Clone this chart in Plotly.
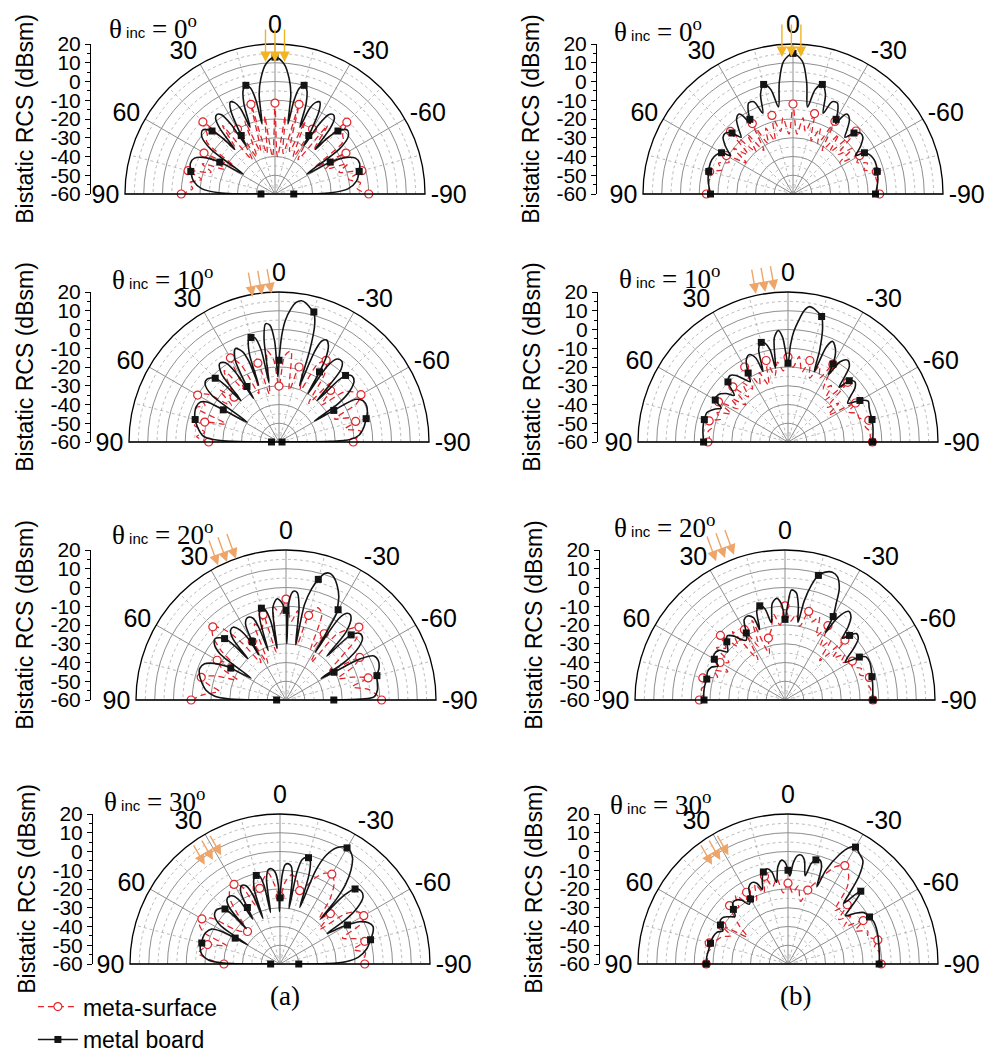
import math
import numpy as np
import plotly.graph_objects as go

W, H = 997, 1059

# Observation angles (deg) of the sampled meta-surface curves
OBS_META = [90, 86.25, 82.5, 78.75, 75, 71.25, 67.5, 63.75, 60, 56.25, 52.5, 48.75,
            45, 41.25, 37.5, 33.75, 30, 26.25, 22.5, 18.75, 15, 11.25, 7.5, 3.75, 0,
            -3.75, -7.5, -11.25, -15, -18.75, -22.5, -26.25, -30, -33.75, -37.5, -41.25,
            -45, -48.75, -52.5, -56.25, -60, -63.75, -67.5, -71.25, -75, -78.75, -82.5,
            -86.25, -90]

# Bistatic RCS of the meta-surface (dBsm) at OBS_META
META_A0 = [-10, -16, -14, -20, -12, -24, -18, -30, -16.3, -34, -14, -12, -5.6, -28, -14, -38,
           -20, -38, -18, -36, -10.5, -38, -18, -40, -11.5, -40, -18, -38, -10.5, -36, -18, -38,
           -20, -38, -14, -28, -5.8, -12, -14, -34, -16.3, -30, -18, -24, -12, -20, -14, -16, -10]
META_A10 = [-22.5, -16, -20, -14, -19, -30, -12, -16, -9.9, -14, -28, -18, -26.2, -20, -12, -26,
            -8.2, -14, -32, -20, -16.5, -34, -11, -16, -30.2, -14, -11, -32, -18.6, -22, -30, -14,
            -9.7, -16, -34, -18, -21.1, -30, -16, -12, -9.5, -14, -28, -20, -17.7, -24, -16, -18, -20.4]
META_A20 = [-9.4, -16, -24, -18, -13.2, -20, -32, -22, -17.6, -26, -16, -8, -4.8, -10, -22, -36,
            -24, -38, -16, -20, -12.9, -34, -10, -14, -6.2, -18, -12, -30, -13.3, -8, -10, -30,
            -19.2, -36, -16, -10, -5, -10, -24, -32, -14.6, -20, -30, -22, -14.6, -24, -16, -12, -9]
META_A30 = [-30.1, -22, -16, -18, -20, -30, -16, -12, -11.9, -16, -30, -34, -35.5, -28, -16, -12,
            -11, -14, -26, -16, -18.2, -14, -11, -18, -24, -16, -12, -14, -19.5, -16, -10, -6,
            -4.7, -8, -16, -28, -22, -32, -16, -10, -8.4, -12, -24, -18, -13.2, -20, -14, -15, -14.8]
META_B0 = [-13.8, -15, -14.5, -15, -14, -20, -17, -22, -19, -30, -20, -28, -12.8, -30, -20, -32,
           -16.6, -30, -22, -30, -16.6, -26, -19, -28, -12, -28, -19, -26, -15.6, -30, -22, -30,
           -15.3, -32, -20, -30, -12.5, -28, -20, -30, -19, -22, -17, -20, -14, -15, -14.5, -15, -13.8]
META_B10 = [-17.3, -18, -17, -19, -16.5, -22, -19, -26, -17.2, -28, -22, -30, -18.4, -28, -20, -26,
            -13.8, -26, -20, -28, -15, -24, -17, -22, -14.7, -20, -14, -22, -15, -24, -16, -22,
            -12.2, -26, -22, -30, -15, -32, -26, -34, -18.4, -24, -20, -20, -15.4, -18, -16, -16, -15]
META_B20 = [-14.3, -16, -15, -17, -14.6, -22, -19, -26, -20, -24, -14, -18, -11.3, -22, -14, -34,
            -16.7, -28, -14, -34, -25.8, -22, -14, -20, -9.8, -18, -14, -20, -11.1, -16, -12, -22,
            -14.2, -26, -20, -32, -14.8, -26, -20, -24, -18.5, -20, -16, -18, -13.4, -15, -14, -13.5, -13.1]
META_B30 = [-16.4, -17, -16.5, -18, -16.5, -20, -22, -26, -19.3, -34, -28, -22, -15.9, -20, -14, -20,
            -15.8, -22, -14, -20, -11.6, -18, -14, -22, -16.9, -22, -18, -26, -19.2, -14, -8, -2,
            0.6, -2, -8, -22, -15.3, -24, -18, -24, -13.7, -20, -14, -15, -10.4, -13, -11, -11, -10.3]

# Bistatic RCS of the metal board: (observation angle deg, dBsm)
METAL_A0 = [(90, -52.5), (88.7, -30), (86, -21), (81, -16), (75, -13.5), (70, -12), (66, -13),
            (63, -17), (60, -26), (58, -40), (55, -18), (52, -10.5), (48.5, -8.5), (45, -12.5),
            (43, -20), (42, -28), (40, -14), (38, -8.5), (36, -7.5), (34, -9), (32.3, -16),
            (31, -30), (30, -24), (28, -10), (26, -5.5), (24, -6.5), (22, -11), (20.5, -22),
            (19, -9), (17, -2), (15, 0), (13, -2), (11.5, -9), (10.5, -22), (9, -6), (7, 2),
            (4, 9.5), (0, 13), (-4, 9.5), (-7, 2), (-9, -6), (-10.5, -22), (-11.5, -9), (-13, -2),
            (-15, 0), (-17, -2), (-19, -9), (-20.5, -22), (-22, -11), (-24, -6.5), (-26, -5.5),
            (-28, -10), (-30, -24), (-31, -30), (-32.3, -16), (-34, -9), (-36, -7.5), (-38, -8.5),
            (-40, -14), (-42, -28), (-43, -20), (-45, -12.5), (-48.5, -8.5), (-52, -10.5),
            (-55, -18), (-58, -40), (-60, -26), (-63, -17), (-66, -13), (-70, -12), (-75, -13.5),
            (-81, -16), (-86, -21), (-88.7, -30), (-90, -50)]
METAL_A10 = [(90, -56), (89, -32), (87, -22), (85, -19), (80, -16), (75, -13.7), (71, -12.5),
             (67, -12), (63, -13), (61, -16), (60, -25.7), (58, -40), (55, -16), (52, -10),
             (49, -9), (45, -11.9), (43.5, -18), (42.6, -30), (40, -12), (37, -7.5), (34, -9),
             (32, -16), (30.4, -33), (30, -25.8), (28, -10), (25, -5), (22, -8), (20.5, -14),
             (19.7, -28), (18.5, -10), (16.5, -3), (15, -2.3), (13, -3), (11, -10), (9.6, -28),
             (8.2, -4), (6.5, 3.4), (4.5, 2.5), (2.5, -6), (1, -25), (0, -16.4), (-1.5, -3),
             (-3, 5), (-5, 11), (-7, 15), (-9, 16.3), (-11, 15.5), (-13, 13.5), (-15, 11.8),
             (-17, 5), (-18.5, -8), (-20, -28), (-21.5, -8), (-23, -1.5), (-25, 0), (-27, -2),
             (-29, -8), (-30, -16.8), (-31, -30), (-32.5, -12), (-35, -6), (-38, -5.5),
             (-40.5, -9), (-42.5, -30), (-44, -14), (-45, -9.8), (-48, -7.5), (-51, -8.5),
             (-54, -13), (-57, -22), (-59.2, -38), (-60, -26.3), (-61, -13), (-64, -10),
             (-68, -9.5), (-72, -10.5), (-75, -11.9), (-80, -14), (-85, -17), (-88, -22),
             (-89.3, -33), (-90, -58.4)]
METAL_A20 = [(90, -55), (89, -30), (87, -22), (83, -17), (78, -14), (74, -12), (70, -11),
             (66, -12.5), (63, -17), (61, -22), (60, -26), (58, -38), (55, -17), (52, -11.5),
             (49, -10), (45, -13.7), (43.5, -20), (42.7, -30), (41, -17), (38.5, -12.5), (36, -12),
             (33.5, -15), (31.5, -22), (31, -32), (30, -24), (28, -14), (25, -11.5), (22, -13),
             (20.5, -19), (19.8, -32), (18, -15), (16, -9.5), (15, -9.3), (13, -10.5), (11, -17),
             (9.7, -32), (8, -10), (5, -5.8), (2.5, -8), (1, -11), (0, -12.2), (-0.8, -30),
             (-2, -6), (-4, -1.8), (-6, -2.5), (-8, -10), (-9.9, -30), (-11, -8), (-13, 1),
             (-15, 6.6), (-17, 10.5), (-19, 11.5), (-21, 10.5), (-24, 7), (-27, 2), (-29, -3),
             (-30, -4.4), (-31, -20), (-31.5, -30), (-33, -8), (-35, -3.5), (-37, -3), (-39, -5),
             (-41.5, -12), (-43, -28), (-45, -10.9), (-48, -7), (-51, -7.5), (-54, -12),
             (-57, -22), (-58.4, -38), (-60, -30.4), (-61, -15), (-63.4, -7.5), (-67, -6.5),
             (-71, -7.5), (-75, -9.8), (-80, -10.5), (-84, -11), (-88, -13), (-89.3, -20),
             (-90, -34.5)]
METAL_A30 = [(90, -55), (89, -30), (87, -22), (83, -18), (78, -16.5), (75, -16.8), (71, -16.5),
             (67, -17), (63, -19), (61, -24), (60, -32.4), (59.3, -40), (57, -22), (54, -17),
             (50.5, -15.5), (47, -16.5), (45, -18.5), (44, -24), (43.6, -34), (42, -20),
             (39.5, -15.5), (37, -14.8), (34.5, -16), (32.5, -20), (31.3, -32), (30, -25.2),
             (28.5, -16), (26, -13.4), (23.5, -14.5), (21.5, -20), (20.5, -34), (19, -18),
             (17, -12.5), (15, -11.1), (13, -12), (11.5, -17), (10.4, -32), (9, -14), (7, -9.3),
             (5, -9), (3, -11), (1.2, -18), (0.6, -32), (0, -24.7), (-1.5, -12), (-3, -7),
             (-4.6, -6.3), (-6.5, -7.5), (-8.2, -14), (-9.2, -30), (-10.5, -10), (-12, -3),
             (-14, -1.3), (-15, -1.3), (-16.5, -3), (-18, -10), (-19.3, -28), (-21, -6), (-23, 3),
             (-26, 9), (-30, 11.5), (-34, 9), (-37, 3), (-39.5, -5), (-41, -14), (-42, -28),
             (-43, -10), (-45, -3.4), (-48, -1.8), (-51, -3), (-54, -9), (-56, -18), (-57.1, -30),
             (-59, -22), (-60, -18.4), (-62, -12), (-65, -8), (-68, -6.5), (-71, -7.5), (-75, -10),
             (-80, -13), (-85, -18), (-88, -25), (-89.5, -35), (-90, -50)]
METAL_B0 = [(90, -16), (85, -15), (80, -14), (75, -13.5), (71, -13), (67, -13), (63, -14),
            (60, -16), (58.5, -21), (57, -19), (54, -15), (51, -12), (48, -11.5), (45, -14),
            (42.5, -19), (40, -15), (37, -10), (34, -8.6), (32.5, -11), (31.3, -16), (30, -14),
            (28.5, -10), (26, -6), (23, -6.5), (20.5, -14), (18, -4), (15, 0.5), (12, -3),
            (9.5, -13), (7, 0), (4, 11), (0, 15), (-4, 11), (-7, 0), (-9.5, -13), (-12, -3),
            (-15, 0.5), (-18, -4), (-20.5, -14), (-23, -6.5), (-26, -6), (-28.5, -10), (-30, -14),
            (-31.3, -16), (-32.5, -11), (-34, -8.6), (-37, -10), (-40, -15), (-42.5, -19),
            (-45, -14), (-48, -11.5), (-51, -12), (-54, -15), (-57, -19), (-58.5, -21), (-60, -16),
            (-63, -14), (-67, -13), (-71, -13), (-75, -13.5), (-80, -14), (-85, -15), (-90, -16)]
METAL_B10 = [(90, -15), (85, -14.5), (80, -14), (75, -13.8), (70, -14), (66, -17), (63, -20),
             (60, -15.2), (56, -15), (52, -18), (49, -22), (45, -14.7), (41, -13), (38, -15),
             (35, -19), (32, -22), (30, -17.5), (27, -11), (24, -9), (21, -12), (19.5, -20),
             (17.5, -8), (15, -5), (13, -6), (11, -10), (9.6, -20), (7.5, -4), (5, -0.3), (3, -4),
             (1.5, -12), (0, -18), (-1.5, -8), (-3, -1), (-5, 5), (-7, 10.5), (-9, 13.1),
             (-11, 12.5), (-13, 11), (-15, 9.3), (-17, 3), (-19, -8), (-20.5, -20), (-22, -5),
             (-24, -1.3), (-26, -3), (-28, -6), (-30, -12), (-31, -18), (-33, -9), (-36, -6),
             (-39, -8), (-41, -14), (-43, -20), (-45, -13.8), (-48, -12), (-51, -14), (-54, -19),
             (-57, -22), (-60, -15.7), (-63, -12), (-67, -13), (-71, -13.5), (-75, -13.6),
             (-80, -14), (-85, -14.5), (-90, -14.9)]
METAL_B20 = [(90, -16.8), (85, -16.5), (80, -16.5), (75, -16.8), (70, -16), (66, -17), (63, -20),
             (60, -16.5), (57, -15), (53, -16), (50, -20), (47, -18), (45, -16.1), (42, -14),
             (39, -16), (36, -20), (33, -22), (30, -18.7), (27, -12), (24, -11), (21, -13),
             (19.8, -20), (17.5, -10), (15, -8), (12.5, -10), (10, -18), (7.5, -8), (4.6, -5.6),
             (2, -9), (0, -17), (-1.5, -10), (-3.4, -1.2), (-6, -2.5), (-8, -9), (-9.5, -18),
             (-11, -6), (-13, 3), (-15, 8.8), (-17.5, 11.5), (-20.3, 12.7), (-23, 11.5), (-26, 6),
             (-28, -2), (-30, -8.6), (-31, -18), (-32.5, -8), (-35.6, -1.8), (-38.5, -3.5),
             (-41, -9), (-43, -15), (-45, -11.3), (-47, -8), (-50, -9), (-53, -14), (-56, -20),
             (-58, -22), (-60, -14.2), (-62, -11), (-66, -10.5), (-70.6, -11.2), (-75, -12),
             (-80, -12.5), (-85, -13), (-90, -13.1)]
METAL_B30 = [(90, -16.4), (85, -16.5), (80, -17), (75, -17.2), (70, -17.5), (66, -18.5), (63, -21),
             (60, -18.4), (57, -17), (54, -17.5), (51, -20), (48, -22), (45, -18.8), (42, -16),
             (39, -16), (36, -18), (33, -22), (30, -20), (27, -14), (24, -12.5), (21, -14),
             (19, -18), (17, -13), (15, -9.2), (12.5, -8), (10, -10), (8, -16), (6, -8),
             (3.5, -4.5), (1.5, -6), (0, -10), (-1.2, -13), (-3, -6), (-5, -2), (-7, -1.5),
             (-9, -4), (-11, -12), (-13, -5), (-15, -2.5), (-17, -2), (-19, -5), (-20.5, -16),
             (-22, -6), (-25, 4), (-28, 10.5), (-30, 12), (-33, 10), (-36, 8), (-39, 0),
             (-41, -10), (-42.5, -16), (-44, -9), (-45, -5.1), (-46.5, -9), (-48, -15), (-50, -20),
             (-53, -15), (-56, -11), (-60, -9.8), (-64, -9), (-68, -9.2), (-73, -9.8),
             (-78, -10.5), (-84, -11), (-90, -11.4)]

# Panel placement (px): polar centre, left scale position, title corner, arrow tip offset
PANELS = [
    dict(inc=0, metal=METAL_A0, meta=META_A0, cx=275, cy=194, axx=91, tx=107, ty=27, tip=(0, -132)),
    dict(inc=10, metal=METAL_A10, meta=META_A10, cx=279, cy=442, axx=91, tx=110, ty=278, tip=(-17, -147)),
    dict(inc=20, metal=METAL_A20, meta=META_A20, cx=286, cy=700, axx=91, tx=110, ty=533, tip=(-59, -138)),
    dict(inc=30, metal=METAL_A30, meta=META_A30, cx=280, cy=964, axx=93, tx=102, ty=800, tip=(-67, -104)),
    dict(inc=0, metal=METAL_B0, meta=META_B0, cx=793, cy=194, axx=597, tx=612, ty=30, tip=(-1.6, -137)),
    dict(inc=10, metal=METAL_B10, meta=META_B10, cx=788, cy=442, axx=598, tx=617, ty=277, tip=(-22.7, -150)),
    dict(inc=20, metal=METAL_B20, meta=META_B20, cx=785, cy=700, axx=600, tx=612, ty=526, tip=(-60, -142)),
    dict(inc=30, metal=METAL_B30, meta=META_B30, cx=788, cy=964, axx=600, tx=608, ty=803, tip=(-67.7, -104)),
]
R = 150
ARROW_LEN = {0: 34, 10: 26, 20: 28, 30: 24}

SANS = "Liberation Sans, Arial, sans-serif"
SERIF = "Liberation Serif, Times New Roman, serif"
RED = "#E3242B"
BLACK = "#141414"
GRID = "#8e8e8e"
GRID_MINOR = "#a9a9a9"
CLEAR = "rgba(0,0,0,0)"

ANG_TICKS = [-90, -60, -30, 0, 30, 60, 90]
ANG_TEXT = ["-90", "-60", "-30", "0", "30", "60", "90"]
RCS_TICKS = [-60, -50, -40, -30, -20, -10, 0, 10, 20]
RCS_TEXT = ["-60", "-50", "-40", "-30", "-20", "-10", "0", "10", "20"]


def on_grid(theta):
    return [abs(t / 15.0 - round(t / 15.0)) < 1e-9 for t in theta]


fig = go.Figure()
layout = {}
annotations = []

for i, p in enumerate(PANELS, start=1):
    pk = "polar" if i == 1 else f"polar{i}"
    sfx = "" if i == 1 else str(i)

    # dotted minor grid: 15-degree spokes and 5 dB rings
    gt, gr = [], []
    for a in (-75, -45, -15, 15, 45, 75):
        gt += [a, a, None]
        gr += [-60, 20, None]
    ring_theta = list(np.linspace(-90, 90, 121))
    for rv in range(-55, 20, 10):
        gt += ring_theta + [None]
        gr += [rv] * len(ring_theta) + [None]
    fig.add_trace(go.Scatterpolar(r=gr, theta=gt, mode="lines", subplot=pk,
                                  line=dict(color=GRID_MINOR, width=0.8, dash="dot"),
                                  showlegend=False, hoverinfo="skip"))

    # meta-surface
    mk = on_grid(OBS_META)
    fig.add_trace(go.Scatterpolar(
        theta=OBS_META, r=p["meta"], mode="lines+markers", subplot=pk,
        name="meta-surface", legendgroup="meta", legendrank=1, showlegend=(i == 1),
        line=dict(color=RED, width=1.3, dash="6px,4px", shape="spline", smoothing=0.8),
        marker=dict(symbol="circle", size=8,
                    color=["white" if k else CLEAR for k in mk],
                    line=dict(color=[RED if k else CLEAR for k in mk], width=1.2)),
        hoverinfo="skip"))

    # metal board
    th = [a for a, _ in p["metal"]]
    rr = [b for _, b in p["metal"]]
    mk = on_grid(th)
    fig.add_trace(go.Scatterpolar(
        theta=th, r=rr, mode="lines+markers", subplot=pk,
        name="metal board", legendgroup="metal", legendrank=2, showlegend=(i == 1),
        line=dict(color=BLACK, width=1.6, shape="spline", smoothing=0.9),
        marker=dict(symbol="square", size=7, color=[BLACK if k else CLEAR for k in mk]),
        hoverinfo="skip"))

    x0, x1 = (p["cx"] - R) / W, (p["cx"] + R) / W
    y0, y1 = 1 - p["cy"] / H, 1 - (p["cy"] - R) / H
    layout[pk] = dict(
        domain=dict(x=[x0, x1], y=[y0, y1]), sector=[0, 180], bgcolor="white",
        radialaxis=dict(range=[-60, 20], tickvals=[-50, -40, -30, -20, -10, 0, 10],
                        showticklabels=False, ticks="", showline=False,
                        gridcolor=GRID, gridwidth=0.9),
        angularaxis=dict(rotation=90, direction="counterclockwise",
                         tickvals=ANG_TICKS, ticktext=ANG_TEXT, ticks="",
                         showline=True, linecolor="black", linewidth=1.3,
                         gridcolor=GRID, gridwidth=0.9,
                         tickfont=dict(family=SANS, size=25, color="black")))

    # vertical RCS scale at the left of each half-disc
    fig.add_trace(go.Scatter(x=[None], y=[None], xaxis="x" + sfx, yaxis="y" + sfx,
                             showlegend=False, hoverinfo="skip"))
    layout["xaxis" + sfx] = dict(domain=[p["axx"] / W, p["axx"] / W + 0.002],
                                 visible=False, range=[0, 1], fixedrange=True,
                                 automargin=False)
    layout["yaxis" + sfx] = dict(
        domain=[y0, y1], anchor="x" + sfx, range=[-60, 20], side="left",
        showline=True, linecolor="black", linewidth=1, showgrid=False, zeroline=False,
        ticks="outside", ticklen=5, tickwidth=1, tickcolor="black",
        tickvals=RCS_TICKS, ticktext=RCS_TEXT,
        tickfont=dict(family=SANS, size=21, color="black"),
        minor=dict(ticks="outside", ticklen=3, tickcolor="black",
                   tickvals=[-55, -45, -35, -25, -15, -5, 5, 15], showgrid=False),
        title=dict(text="Bistatic RCS (dBsm)", font=dict(family=SANS, size=23, color="black"),
                   standoff=10),
        automargin=False, fixedrange=True)

    # incidence label
    annotations.append(dict(
        x=p["tx"] / W, y=1 - p["ty"] / H, xref="paper", yref="paper",
        xanchor="left", yanchor="middle", showarrow=False,
        text=("θ<span style='font-family:Liberation Sans;font-size:15px'> inc</span>"
              f" = {p['inc']}<sup>o</sup>"),
        font=dict(family=SERIF, size=27, color="black")))

    # incident plane-wave arrows
    inc = math.radians(p["inc"])
    L = ARROW_LEN[p["inc"]]
    col = "#F2B423" if p["inc"] == 0 else "#EEA56A"
    dx, dy = math.sin(inc), math.cos(inc)
    for k in (-1, 0, 1):
        tx = p["cx"] + p["tip"][0] + k * 9.5 * dy
        ty = p["cy"] + p["tip"][1] - k * 9.5 * dx
        annotations.append(dict(
            x=tx / W, y=1 - ty / H, xref="paper", yref="paper",
            ax=-L * dx, ay=-L * dy, text="", showarrow=True,
            arrowhead=2, arrowsize=1.5, arrowwidth=1.4, arrowcolor=col, standoff=0))

for lab, x in (("(a)", 285), ("(b)", 795)):
    annotations.append(dict(x=x / W, y=1 - 996 / H, xref="paper", yref="paper",
                            xanchor="center", yanchor="middle",
                            showarrow=False, text=lab,
                            font=dict(family=SERIF, size=27, color="black")))

fig.update_layout(
    template="none",
    width=W, height=H, margin=dict(l=0, r=0, t=0, b=0, autoexpand=False),
    paper_bgcolor="white", plot_bgcolor="white",
    showlegend=True,
    legend=dict(x=0.033, y=-0.002, xanchor="left", yanchor="bottom",
                font=dict(family=SANS, size=23, color="black"),
                bgcolor="rgba(0,0,0,0)", tracegroupgap=0, itemwidth=40),
    annotations=annotations,
    **layout)

fig.write_html("out.html")
